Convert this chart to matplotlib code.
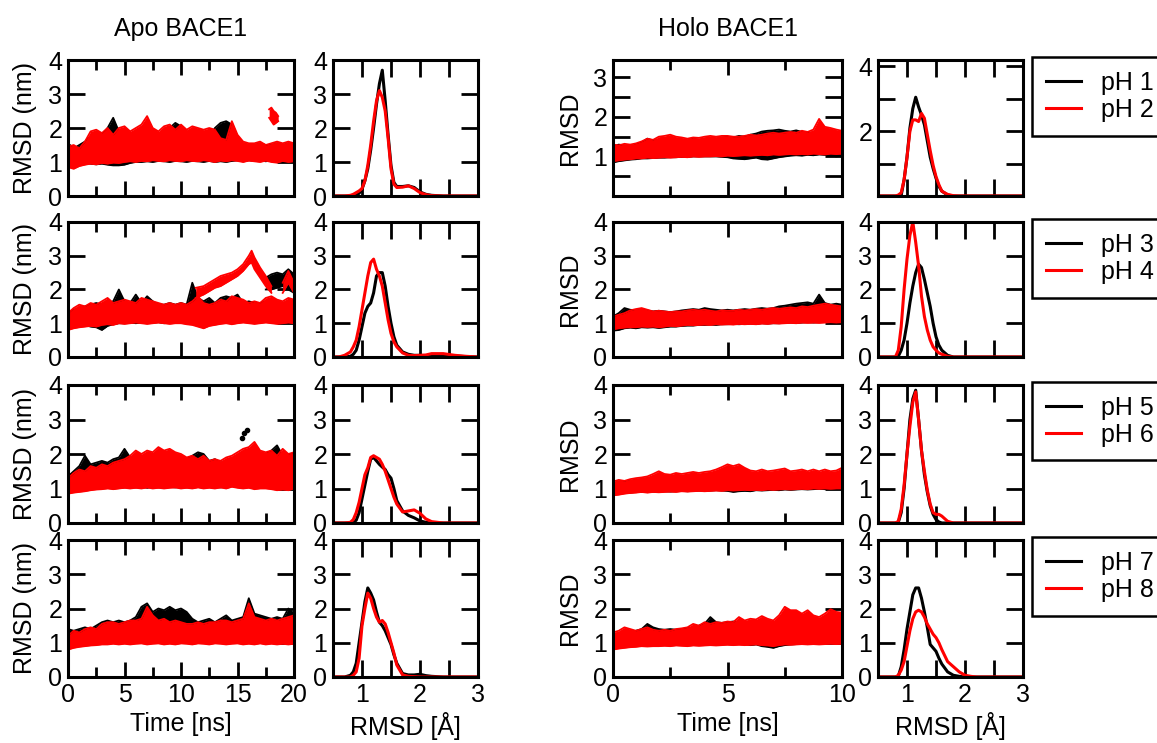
import numpy as np
import matplotlib.pyplot as plt
from matplotlib.lines import Line2D
from matplotlib.ticker import MultipleLocator, NullFormatter, FuncFormatter

plt.rcParams['font.family'] = ['Liberation Sans', 'DejaVu Sans']
plt.rcParams['font.size'] = 18

# sampling times of the band edges
apo_t = np.arange(0, 20.01, 0.5)     # ns
holo_t = np.arange(0, 10.01, 0.25)   # ns

# ---------- Apo BACE1, time series (lower / upper edge of the scatter band)
apo1_black_lo = [1.0, 0.95, 0.95, 0.97, 0.95, 0.93, 0.95, 0.92, 0.9, 0.9, 0.92, 0.97, 1.0, 1.0, 1.02, 1.0, 1.03, 1.02, 1.0, 1.03, 1.02,
                 1.0, 1.03, 1.02, 1.0, 1.03, 1.0, 1.02, 1.0, 1.03, 1.05, 1.02, 1.05, 1.03, 1.05, 1.02, 1.05, 1.03, 1.05, 1.05, 1.08]
apo1_black_hi = [1.55, 1.4, 1.5, 1.6, 1.75, 1.85, 1.8, 2.0, 2.3, 1.9, 1.8, 1.7, 1.7, 1.8, 2.0, 1.85, 1.8, 1.9, 2.0, 2.15, 2.05,
                 1.9, 1.8, 1.7, 1.6, 1.7, 2.0, 2.15, 2.2, 2.1, 1.7, 1.5, 1.5, 1.5, 1.55, 1.5, 1.5, 1.55, 1.5, 1.55, 1.5]
apo1_red_lo = [0.85, 0.8, 0.88, 0.92, 0.95, 0.93, 0.97, 0.95, 0.98, 0.97, 1.0, 1.02, 1.0, 1.03, 1.02, 1.05, 1.03, 1.02, 1.05, 1.03, 1.02,
               1.05, 1.03, 1.02, 1.05, 1.03, 1.0, 1.04, 1.02, 1.05, 1.03, 1.0, 1.04, 1.02, 1.0, 1.04, 1.0, 0.98, 1.03, 1.0, 1.02]
apo1_red_hi = [1.45, 1.5, 1.4, 1.6, 1.9, 1.95, 1.85, 2.0, 1.8, 2.0, 2.05, 1.9, 2.0, 2.1, 2.35, 2.0, 1.9, 2.05, 2.1, 1.95, 2.1,
               1.95, 2.05, 2.0, 1.95, 2.0, 1.95, 1.7, 1.65, 2.2, 1.8, 1.6, 1.55, 1.55, 1.6, 1.5, 1.55, 1.6, 1.55, 1.6, 1.55]
apo1_red_up_t = [17.8, 18.0, 18.2, 18.4, 18.6]
apo1_red_up_lo = [2.3, 2.2, 2.1, 2.15, 2.2]
apo1_red_up_hi = [2.55, 2.6, 2.5, 2.45, 2.35]

apo2_black_lo = [0.9, 0.95, 0.97, 0.95, 0.9, 0.88, 0.8, 0.92, 0.97, 1.0, 1.0, 1.02, 1.0, 1.02, 1.0, 1.02, 1.03, 1.0, 1.02, 1.05, 1.02,
                 1.0, 1.03, 1.02, 1.0, 1.05, 1.02, 1.0, 1.03, 1.05, 1.02, 1.05, 1.03, 1.0, 1.05, 1.05, 1.02, 1.05, 1.03, 1.05, 1.05]
apo2_black_hi = [1.3, 1.4, 1.45, 1.5, 1.55, 1.6, 1.55, 1.6, 1.65, 2.0, 1.65, 1.6, 1.85, 1.6, 1.8, 1.65, 1.55, 1.55, 1.6, 1.55, 1.6,
                 1.55, 2.2, 1.75, 1.65, 1.75, 1.6, 1.75, 1.8, 1.75, 1.85, 1.6, 1.65, 1.6, 1.6, 1.65, 1.6, 1.65, 1.6, 1.65, 1.6]
apo2_black_up_t = [17.5, 18.0, 18.5, 19.0, 19.5, 20.0]
apo2_black_up_lo = [2.0, 2.0, 2.05, 2.1, 2.0, 1.9]
apo2_black_up_hi = [2.35, 2.45, 2.5, 2.45, 2.6, 2.45]
apo2_red_lo = [0.8, 0.85, 0.88, 0.9, 0.92, 0.9, 0.95, 0.97, 0.95, 1.0, 0.98, 1.0, 1.02, 1.0, 0.98, 1.0, 1.02, 1.0, 0.98, 1.0, 1.0,
               0.97, 0.95, 0.9, 0.85, 0.92, 0.95, 0.98, 1.0, 0.97, 1.0, 1.02, 1.0, 0.98, 1.0, 1.02, 1.0, 0.98, 1.0, 1.02, 1.0]
apo2_red_hi = [1.3, 1.45, 1.55, 1.5, 1.6, 1.55, 1.65, 1.75, 1.6, 1.65, 1.7, 1.65, 1.6, 1.75, 1.7, 1.65, 1.6, 1.55, 1.6, 1.55, 1.6,
               1.55, 1.65, 1.8, 1.6, 1.55, 1.6, 1.7, 1.65, 1.8, 1.75, 1.7, 1.6, 1.65, 1.6, 1.75, 1.8, 1.7, 1.65, 1.75, 1.7]
apo2_red_up_t = [11.3, 12, 12.5, 13, 13.5, 14, 14.5, 15, 15.5, 16, 16.25, 16.5, 17, 17.5, 18]
apo2_red_up_lo = [1.75, 1.85, 1.95, 2.05, 2.1, 2.2, 2.3, 2.4, 2.55, 2.75, 2.8, 2.6, 2.35, 2.1, 1.9]
apo2_red_up_hi = [2.05, 2.1, 2.2, 2.3, 2.4, 2.45, 2.5, 2.6, 2.75, 3.0, 3.15, 2.95, 2.65, 2.4, 2.1]
apo2_red_up2_t = [19.0, 19.5, 20.0]
apo2_red_up2_lo = [1.9, 2.2, 1.9]
apo2_red_up2_hi = [2.2, 2.55, 2.2]

apo3_black_lo = [0.95, 0.98, 1.0, 1.0, 1.02, 1.0, 1.02, 1.03, 1.0, 1.02, 1.03, 1.05, 1.03, 1.05, 1.02, 1.05, 1.03, 1.05, 1.05, 1.03, 1.05,
                 1.03, 1.05, 1.05, 1.03, 1.05, 1.05, 1.03, 1.05, 1.07, 1.05, 1.03, 1.05, 1.05, 1.07, 1.05, 1.03, 1.05, 1.05, 1.03, 1.05]
apo3_black_hi = [1.35, 1.5, 1.65, 1.95, 1.7, 1.75, 1.8, 1.75, 1.85, 1.9, 2.15, 1.9, 1.8, 1.85, 1.9, 1.95, 1.9, 1.85, 1.8, 1.85, 1.8,
                 1.85, 1.95, 2.05, 2.0, 1.8, 1.85, 1.75, 1.8, 1.85, 1.9, 1.85, 1.9, 1.95, 1.9, 2.0, 2.1, 2.25, 1.95, 2.0, 2.0]
apo3_black_out_t = [15.4, 15.6, 15.8]
apo3_black_out_v = [2.45, 2.6, 2.7]
apo3_red_lo = [0.85, 0.88, 0.9, 0.92, 0.95, 0.97, 0.98, 1.0, 0.98, 1.0, 1.02, 1.0, 1.02, 1.0, 1.03, 1.0, 1.02, 1.0, 1.02, 1.03, 1.0,
               1.02, 1.0, 1.03, 1.0, 1.02, 1.0, 1.03, 1.0, 1.05, 1.02, 1.0, 1.02, 0.98, 1.0, 1.0, 0.98, 0.95, 0.97, 0.95, 1.0]
apo3_red_hi = [1.3, 1.45, 1.55, 1.5, 1.65, 1.6, 1.7, 1.65, 1.75, 1.8, 1.85, 1.95, 2.1, 2.0, 2.1, 2.05, 2.2, 2.1, 2.15, 2.05, 2.0,
               1.9, 1.95, 1.85, 1.95, 1.8, 1.85, 1.8, 1.9, 1.95, 2.05, 2.15, 2.2, 2.35, 2.1, 2.05, 2.1, 1.95, 2.15, 2.0, 2.05]

apo4_black_lo = [0.95, 0.95, 0.97, 0.98, 1.0, 0.98, 1.0, 1.0, 1.02, 1.0, 1.0, 1.02, 1.0, 1.02, 1.0, 1.0, 1.02, 1.0, 1.0, 1.02, 1.0,
                 1.0, 1.02, 1.0, 1.0, 1.02, 1.0, 1.0, 1.02, 1.0, 1.0, 1.02, 1.0, 1.0, 1.02, 1.0, 1.0, 1.02, 1.0, 1.0, 1.0]
apo4_black_hi = [1.4, 1.35, 1.4, 1.45, 1.4, 1.5, 1.6, 1.65, 1.6, 1.65, 1.6, 1.65, 1.75, 2.05, 2.15, 1.9, 2.0, 1.95, 2.05, 1.95, 2.0,
                 1.9, 1.7, 1.6, 1.65, 1.7, 1.6, 1.7, 1.8, 1.65, 1.7, 1.75, 2.3, 1.85, 1.8, 1.75, 1.7, 1.75, 1.7, 2.0, 1.85]
apo4_red_lo = [0.8, 0.85, 0.88, 0.9, 0.92, 0.93, 0.95, 0.95, 0.97, 0.95, 0.97, 0.95, 0.97, 0.98, 0.95, 0.97, 0.98, 0.95, 0.97, 0.95, 0.98,
               0.97, 0.95, 0.98, 0.97, 0.95, 0.98, 0.97, 0.95, 0.97, 0.98, 0.95, 0.97, 0.95, 0.98, 0.95, 0.97, 0.95, 0.97, 0.95, 0.97]
apo4_red_hi = [1.2, 1.35, 1.3, 1.4, 1.45, 1.4, 1.55, 1.6, 1.6, 1.55, 1.6, 1.65, 1.65, 1.7, 2.05, 1.8, 1.65, 1.7, 1.6, 1.65, 1.6,
               1.55, 1.55, 1.6, 1.55, 1.6, 1.6, 1.65, 1.65, 1.6, 1.65, 1.7, 2.15, 1.75, 1.7, 1.65, 1.7, 1.65, 1.7, 1.75, 1.8]

# ---------- Holo BACE1, time series
holo1_black_lo = [0.85, 0.88, 0.9, 0.92, 0.93, 0.95, 0.95, 0.96, 0.97, 0.97, 0.98, 0.98, 0.99, 0.99, 1.0, 1.0, 1.0, 1.0, 1.0, 0.99, 0.98,
                  0.95, 0.94, 0.93, 0.95, 0.97, 0.93, 0.92, 0.95, 0.98, 1.0, 1.02, 1.03, 1.02, 1.04, 1.03, 1.05, 1.04, 1.03, 1.0, 1.02]
holo1_black_hi = [1.25, 1.3, 1.28, 1.25, 1.3, 1.35, 1.45, 1.4, 1.42, 1.45, 1.48, 1.45, 1.42, 1.4, 1.45, 1.42, 1.45, 1.47, 1.45, 1.48, 1.5,
                  1.48, 1.52, 1.5, 1.55, 1.58, 1.63, 1.65, 1.66, 1.68, 1.65, 1.63, 1.66, 1.62, 1.6, 1.6, 1.65, 1.6, 1.62, 1.58, 1.55]
holo1_red_lo = [0.88, 0.9, 0.92, 0.93, 0.95, 0.95, 0.97, 0.96, 0.97, 0.98, 0.97, 0.98, 0.99, 0.98, 1.0, 0.99, 1.0, 1.0, 1.01, 1.0, 1.02,
                1.01, 1.02, 1.03, 1.02, 1.03, 1.04, 1.03, 1.05, 1.04, 1.05, 1.06, 1.05, 1.06, 1.05, 1.07, 1.06, 1.05, 1.07, 1.06, 1.07]
holo1_red_hi = [1.3, 1.28, 1.32, 1.3, 1.33, 1.38, 1.45, 1.42, 1.5, 1.52, 1.55, 1.5, 1.48, 1.45, 1.48, 1.47, 1.5, 1.52, 1.5, 1.52, 1.52,
                1.5, 1.5, 1.52, 1.55, 1.53, 1.55, 1.58, 1.6, 1.58, 1.6, 1.62, 1.6, 1.65, 1.62, 1.68, 1.95, 1.75, 1.72, 1.68, 1.65]

holo2_black_lo = [0.78, 0.8, 0.85, 0.87, 0.85, 0.88, 0.87, 0.88, 0.86, 0.88, 0.9, 0.9, 0.92, 0.93, 0.93, 0.95, 0.95, 0.96, 0.95, 0.97, 0.97,
                  0.98, 0.97, 0.98, 0.99, 0.98, 1.0, 0.99, 1.0, 1.0, 1.01, 1.02, 1.01, 1.02, 1.03, 1.02, 1.03, 1.04, 1.03, 1.04, 1.05]
holo2_black_hi = [1.2, 1.3, 1.45, 1.4, 1.38, 1.4, 1.38, 1.35, 1.37, 1.35, 1.33, 1.35, 1.38, 1.4, 1.42, 1.4, 1.45, 1.42, 1.4, 1.38, 1.4,
                  1.38, 1.4, 1.42, 1.4, 1.43, 1.45, 1.43, 1.45, 1.5, 1.52, 1.55, 1.58, 1.6, 1.62, 1.58, 1.85, 1.6, 1.55, 1.58, 1.55]
holo2_red_lo = [0.82, 0.85, 0.87, 0.88, 0.88, 0.9, 0.89, 0.9, 0.88, 0.9, 0.92, 0.91, 0.93, 0.95, 0.94, 0.95, 0.96, 0.95, 0.97, 0.96, 0.97,
                0.96, 0.98, 0.97, 0.98, 0.97, 0.99, 0.98, 1.0, 0.99, 1.0, 1.01, 1.0, 1.02, 1.01, 1.02, 1.01, 1.02, 1.03, 1.02, 1.03]
holo2_red_hi = [1.2, 1.25, 1.3, 1.38, 1.42, 1.45, 1.4, 1.35, 1.37, 1.35, 1.33, 1.35, 1.35, 1.38, 1.4, 1.38, 1.4, 1.37, 1.35, 1.38, 1.37,
                1.37, 1.4, 1.38, 1.4, 1.42, 1.4, 1.43, 1.45, 1.43, 1.45, 1.47, 1.45, 1.5, 1.48, 1.52, 1.55, 1.58, 1.55, 1.52, 1.5]

holo3_black_lo = [0.85, 0.85, 0.87, 0.88, 0.9, 0.9, 0.9, 0.91, 0.9, 0.92, 0.91, 0.92, 0.93, 0.92, 0.93, 0.94, 0.93, 0.94, 0.95, 0.94, 0.93,
                  0.9, 0.92, 0.93, 0.92, 0.95, 0.94, 0.95, 0.96, 0.95, 0.97, 0.96, 0.97, 0.98, 0.97, 0.98, 0.99, 0.98, 0.99, 1.0, 0.99]
holo3_black_hi = [1.15, 1.2, 1.2, 1.22, 1.25, 1.27, 1.3, 1.32, 1.35, 1.33, 1.35, 1.37, 1.35, 1.38, 1.37, 1.4, 1.38, 1.4, 1.38, 1.4, 1.42,
                  1.4, 1.42, 1.4, 1.43, 1.42, 1.45, 1.43, 1.42, 1.45, 1.43, 1.45, 1.42, 1.45, 1.43, 1.48, 1.45, 1.43, 1.45, 1.42, 1.45]
holo3_red_lo = [0.8, 0.82, 0.85, 0.87, 0.88, 0.9, 0.88, 0.9, 0.89, 0.9, 0.91, 0.9, 0.92, 0.91, 0.92, 0.93, 0.92, 0.93, 0.94, 0.93, 0.95,
                0.94, 0.95, 0.96, 0.95, 0.96, 0.95, 0.97, 0.96, 0.97, 0.98, 0.97, 0.98, 0.99, 0.98, 1.0, 0.99, 1.0, 0.99, 1.0, 1.0]
holo3_red_hi = [1.2, 1.25, 1.22, 1.27, 1.3, 1.32, 1.35, 1.42, 1.5, 1.42, 1.4, 1.45, 1.42, 1.45, 1.48, 1.45, 1.48, 1.5, 1.55, 1.62, 1.7,
                1.65, 1.7, 1.6, 1.52, 1.5, 1.55, 1.5, 1.52, 1.55, 1.58, 1.5, 1.52, 1.55, 1.5, 1.55, 1.5, 1.55, 1.5, 1.52, 1.6]

holo4_black_lo = [0.9, 0.88, 0.9, 0.92, 0.93, 0.92, 0.93, 0.95, 0.94, 0.95, 0.96, 0.95, 0.96, 0.97, 0.96, 0.97, 0.98, 0.97, 0.98, 0.97, 0.96,
                  0.95, 0.97, 0.96, 0.93, 0.95, 0.9, 0.88, 0.85, 0.9, 0.93, 0.95, 0.96, 0.97, 0.96, 0.98, 0.97, 0.98, 0.99, 1.0, 1.0]
holo4_black_hi = [1.2, 1.25, 1.3, 1.32, 1.35, 1.4, 1.55, 1.45, 1.4, 1.38, 1.4, 1.38, 1.4, 1.42, 1.45, 1.5, 1.55, 1.75, 1.6, 1.58, 1.6,
                  1.62, 1.6, 1.58, 1.6, 1.62, 1.6, 1.58, 1.6, 1.58, 1.55, 1.6, 1.58, 1.55, 1.6, 1.57, 1.6, 1.55, 1.58, 1.55, 1.6]
holo4_red_lo = [0.8, 0.83, 0.85, 0.87, 0.88, 0.9, 0.89, 0.9, 0.9, 0.91, 0.9, 0.92, 0.91, 0.9, 0.92, 0.91, 0.92, 0.93, 0.92, 0.93, 0.94,
                0.93, 0.94, 0.93, 0.94, 0.95, 0.93, 0.92, 0.9, 0.93, 0.95, 0.94, 0.95, 0.96, 0.95, 0.96, 0.95, 0.96, 0.97, 0.96, 0.97]
holo4_red_hi = [1.3, 1.35, 1.45, 1.4, 1.35, 1.4, 1.45, 1.38, 1.35, 1.38, 1.35, 1.4, 1.42, 1.45, 1.55, 1.5, 1.6, 1.55, 1.6, 1.58, 1.62,
                1.6, 1.75, 1.65, 1.7, 1.68, 1.78, 1.7, 1.65, 1.8, 2.05, 1.95, 1.95, 1.85, 1.95, 1.8, 1.75, 1.85, 1.98, 1.9, 1.88]

# ---------- RMSD distributions
dist_x = [0.5, 0.6, 0.7, 0.8, 0.85, 0.9, 0.95, 1.0, 1.05, 1.1, 1.15, 1.2, 1.25, 1.3, 1.35,
          1.4, 1.45, 1.5, 1.55, 1.6, 1.7, 1.8, 1.9, 2.0, 2.1, 2.2, 2.4, 2.6, 2.8, 3.0]
apo1_dist_black = [0, 0, 0, 0, 0.01, 0.02, 0.08, 0.2, 0.45, 0.8, 1.35, 2.0, 2.7, 3.3, 3.7, 2.8, 1.8, 0.9, 0.4, 0.28, 0.28, 0.3, 0.25, 0.12, 0.05, 0.02, 0, 0, 0, 0]
apo1_dist_red = [0, 0, 0, 0.02, 0.05, 0.1, 0.15, 0.22, 0.45, 0.9, 1.5, 2.2, 2.8, 3.1, 2.9, 2.5, 1.7, 0.8, 0.35, 0.25, 0.26, 0.3, 0.22, 0.1, 0.04, 0.01, 0, 0, 0, 0]
apo2_dist_black = [0, 0, 0, 0.02, 0.08, 0.2, 0.5, 0.9, 1.3, 1.5, 1.6, 1.9, 2.4, 2.5, 2.5, 2.1, 1.5, 1.0, 0.6, 0.35, 0.15, 0.08, 0.05, 0.05, 0.04, 0.05, 0.05, 0.03, 0.01, 0]
apo2_dist_red = [0, 0, 0.05, 0.15, 0.3, 0.5, 0.9, 1.4, 1.9, 2.4, 2.8, 2.9, 2.6, 2.4, 2.1, 1.6, 1.1, 0.7, 0.45, 0.3, 0.12, 0.05, 0.04, 0.05, 0.06, 0.1, 0.1, 0.05, 0.02, 0]
apo3_dist_black = [0, 0, 0, 0, 0.02, 0.08, 0.3, 0.7, 1.1, 1.5, 1.85, 1.9, 1.8, 1.7, 1.62, 1.55, 1.4, 1.3, 1.0, 0.65, 0.35, 0.22, 0.15, 0.06, 0.02, 0, 0, 0, 0, 0]
apo3_dist_red = [0, 0, 0, 0.02, 0.1, 0.3, 0.6, 1.0, 1.4, 1.6, 1.9, 1.95, 1.9, 1.85, 1.7, 1.5, 1.25, 1.0, 0.75, 0.55, 0.32, 0.35, 0.38, 0.28, 0.12, 0.04, 0, 0, 0, 0]
apo4_dist_black = [0, 0, 0, 0.05, 0.15, 0.4, 1.0, 1.6, 2.2, 2.6, 2.45, 2.25, 1.9, 1.6, 1.5, 1.35, 1.15, 0.95, 0.65, 0.4, 0.1, 0.06, 0.06, 0.08, 0.04, 0.02, 0, 0, 0, 0]
apo4_dist_red = [0, 0, 0, 0, 0.05, 0.15, 0.55, 1.5, 2.0, 2.45, 2.3, 2.0, 1.75, 1.6, 1.65, 1.55, 1.3, 1.0, 0.7, 0.35, 0.06, 0.02, 0.01, 0, 0, 0, 0, 0, 0, 0]
holo1_dist_black = [0, 0, 0, 0, 0, 0.02, 0.5, 1.2, 2.1, 2.7, 3.05, 2.75, 2.5, 2.2, 1.7, 1.2, 0.85, 0.55, 0.3, 0.15, 0.03, 0, 0, 0, 0, 0, 0, 0, 0, 0]
holo1_dist_red = [0, 0, 0, 0, 0.03, 0.1, 0.5, 1.2, 2.0, 2.35, 2.35, 2.3, 2.55, 2.4, 1.9, 1.4, 0.95, 0.6, 0.35, 0.15, 0.05, 0.01, 0, 0, 0, 0, 0, 0, 0, 0]
holo2_dist_black = [0, 0, 0, 0, 0.02, 0.2, 0.5, 1.0, 1.6, 2.1, 2.5, 2.75, 2.65, 2.3, 1.9, 1.5, 1.0, 0.6, 0.35, 0.2, 0.05, 0, 0, 0, 0, 0, 0, 0, 0, 0]
holo2_dist_red = [0, 0, 0, 0, 0.2, 0.9, 2.0, 2.9, 3.6, 4.0, 3.4, 2.7, 1.8, 1.2, 0.8, 0.5, 0.3, 0.2, 0.12, 0.08, 0.02, 0, 0, 0, 0, 0, 0, 0, 0, 0]
holo3_dist_black = [0, 0, 0, 0, 0.02, 0.3, 1.0, 2.0, 3.0, 3.6, 3.85, 3.0, 2.1, 1.4, 0.9, 0.5, 0.25, 0.1, 0.03, 0, 0, 0, 0, 0, 0, 0, 0, 0, 0, 0]
holo3_dist_red = [0, 0, 0, 0, 0.05, 0.4, 1.1, 2.0, 2.8, 3.5, 3.8, 3.0, 2.1, 1.5, 0.95, 0.55, 0.3, 0.25, 0.25, 0.2, 0.05, 0, 0, 0, 0, 0, 0, 0, 0, 0]
holo4_dist_black = [0, 0, 0, 0, 0.02, 0.3, 0.8, 1.4, 1.9, 2.4, 2.6, 2.6, 2.3, 1.9, 1.45, 0.95, 0.85, 0.75, 0.55, 0.38, 0.15, 0.05, 0.02, 0, 0, 0, 0, 0, 0, 0]
holo4_dist_red = [0, 0, 0, 0, 0.05, 0.2, 0.45, 0.9, 1.35, 1.7, 1.9, 1.95, 1.9, 1.75, 1.55, 1.4, 1.25, 1.15, 1.0, 0.8, 0.45, 0.3, 0.15, 0.05, 0.02, 0, 0, 0, 0, 0]

legend_labels = [("pH 1", "pH 2"), ("pH 3", "pH 4"), ("pH 5", "pH 6"), ("pH 7", "pH 8")]

apo_rows = [
    dict(black=[(apo_t, apo1_black_lo, apo1_black_hi)],
         red=[(apo_t, apo1_red_lo, apo1_red_hi), (apo1_red_up_t, apo1_red_up_lo, apo1_red_up_hi)],
         dist=(apo1_dist_black, apo1_dist_red)),
    dict(black=[(apo_t, apo2_black_lo, apo2_black_hi), (apo2_black_up_t, apo2_black_up_lo, apo2_black_up_hi)],
         red=[(apo_t, apo2_red_lo, apo2_red_hi), (apo2_red_up_t, apo2_red_up_lo, apo2_red_up_hi),
              (apo2_red_up2_t, apo2_red_up2_lo, apo2_red_up2_hi)],
         dist=(apo2_dist_black, apo2_dist_red)),
    dict(black=[(apo_t, apo3_black_lo, apo3_black_hi)],
         red=[(apo_t, apo3_red_lo, apo3_red_hi)],
         dist=(apo3_dist_black, apo3_dist_red)),
    dict(black=[(apo_t, apo4_black_lo, apo4_black_hi)],
         red=[(apo_t, apo4_red_lo, apo4_red_hi)],
         dist=(apo4_dist_black, apo4_dist_red)),
]
holo_rows = [
    dict(black=[(holo_t, holo1_black_lo, holo1_black_hi)], red=[(holo_t, holo1_red_lo, holo1_red_hi)],
         dist=(holo1_dist_black, holo1_dist_red)),
    dict(black=[(holo_t, holo2_black_lo, holo2_black_hi)], red=[(holo_t, holo2_red_lo, holo2_red_hi)],
         dist=(holo2_dist_black, holo2_dist_red)),
    dict(black=[(holo_t, holo3_black_lo, holo3_black_hi)], red=[(holo_t, holo3_red_lo, holo3_red_hi)],
         dist=(holo3_dist_black, holo3_dist_red)),
    dict(black=[(holo_t, holo4_black_lo, holo4_black_hi)], red=[(holo_t, holo4_red_lo, holo4_red_hi)],
         dist=(holo4_dist_black, holo4_dist_red)),
]

W, H = 1157, 743
fig = plt.figure(figsize=(W / 100, H / 100), dpi=100)

# panel boxes in pixels: (top, bottom) per row, (left, right) per column
row_px = [(60, 196), (222, 357), (385, 523), (540, 677)]
col_px = [(68, 294), (333, 478), (613, 842), (878, 1023)]


def px_axes(col, row):
    l, r = col_px[col]
    t, b = row_px[row]
    return fig.add_axes([l / W, 1 - b / H, (r - l) / W, (b - t) / H])


def frame(ax):
    for s in ax.spines.values():
        s.set_linewidth(2.2)
        s.set_zorder(5)
    ax.tick_params(which='both', direction='in', top=True, right=True, width=2, pad=4)
    ax.tick_params(which='major', length=11)
    ax.tick_params(which='minor', length=7)
    ax.tick_params(axis='y', which='both', length=12)


def int_fmt(skip_zero=False):
    def f(v, pos):
        if abs(v - round(v)) > 1e-6 or (skip_zero and abs(v) < 1e-6):
            return ""
        return "%d" % round(v)
    return FuncFormatter(f)


def draw_time(ax, row):
    # black underneath, red on top (fill and its edges kept together)
    for z, color in ((1, "black"), (3, "red")):
        for t, lo, hi in row[color]:
            ax.fill_between(t, lo, hi, color=color, lw=0, zorder=z)
            ax.plot(t, lo, color=color, lw=1.3, zorder=z + 0.5)
            ax.plot(t, hi, color=color, lw=1.3, zorder=z + 0.5)


def draw_dist(ax, row):
    black, red = row["dist"]
    ax.plot(dist_x, black, color="black", lw=2.2)
    ax.plot(dist_x, red, color="red", lw=2.2)
    ax.set_xlim(0.5, 3)
    ax.xaxis.set_major_locator(MultipleLocator(0.5))
    ax.xaxis.set_major_formatter(int_fmt())


for group, (rows, tmax, tcol, dcol, ylab) in enumerate([
        (apo_rows, 20, 0, 1, "RMSD (nm)"),
        (holo_rows, 10, 2, 3, "RMSD")]):
    for i, row in enumerate(rows):
        ax = px_axes(tcol, i)
        draw_time(ax, row)
        if group == 0 and i == 2:
            ax.scatter(apo3_black_out_t, apo3_black_out_v, s=9, color='black', zorder=2)
        ax.set_xlim(0, tmax)
        ax.xaxis.set_major_locator(MultipleLocator(5))
        ax.xaxis.set_minor_locator(MultipleLocator(2.5))
        frame(ax)
        if group == 1 and i == 0:
            ax.set_ylim(0, 3.44)
            ax.yaxis.set_major_locator(MultipleLocator(0.5))
            ax.yaxis.set_major_formatter(int_fmt(skip_zero=True))
        else:
            ax.set_ylim(0, 4)
            ax.yaxis.set_major_locator(MultipleLocator(1))
        ax.set_ylabel(ylab, labelpad=8)
        if i == 0:
            ax.set_title("Apo BACE1" if group == 0 else "Holo BACE1", fontsize=18, pad=17)
        if i < 3:
            ax.xaxis.set_major_formatter(NullFormatter())
        else:
            ax.set_xlabel("Time [ns]", labelpad=4)

        ax2 = px_axes(dcol, i)
        draw_dist(ax2, row)
        frame(ax2)
        ax2.tick_params(axis='x', which='major', length=12)
        if group == 1 and i == 0:
            ax2.set_ylim(0, 4.2)
            ax2.yaxis.set_major_locator(MultipleLocator(1))
            ax2.yaxis.set_major_formatter(FuncFormatter(lambda v, p: "%d" % v if v in (2, 4) else ""))
        else:
            ax2.set_ylim(0, 4)
            ax2.yaxis.set_major_locator(MultipleLocator(1))
        if i < 3:
            ax2.xaxis.set_major_formatter(NullFormatter())
        else:
            ax2.set_xlabel("RMSD [Å]", labelpad=4)

        if group == 1:
            handles = [Line2D([], [], color="black", lw=2.2), Line2D([], [], color="red", lw=2.2)]
            # box runs past the right edge of the figure, as in the original
            leg = ax2.legend(handles, [s + "  " for s in legend_labels[i]], loc="upper left",
                             bbox_to_anchor=(1032 / W, 1 - (row_px[i][0] - 3) / H),
                             bbox_transform=fig.transFigure, borderaxespad=0,
                             borderpad=0.55, handlelength=1.4, handletextpad=0.8,
                             labelspacing=0.12, fancybox=False, framealpha=1)
            leg.get_frame().set_edgecolor("black")
            leg.get_frame().set_linewidth(1.8)

fig.savefig("out.png", dpi=100)
